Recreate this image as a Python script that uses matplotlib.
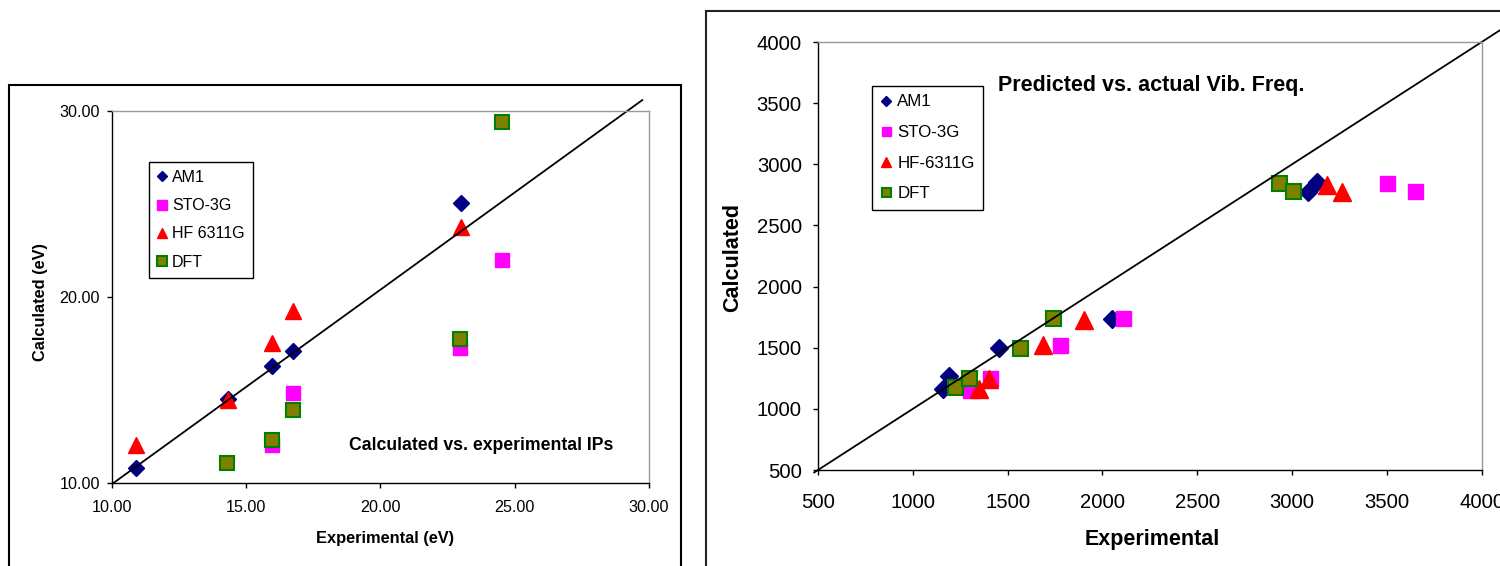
import numpy as np
import matplotlib.pyplot as plt
from matplotlib.patches import Rectangle
from matplotlib.ticker import FormatStrFormatter, MultipleLocator

plt.rcParams['font.family'] = ['Liberation Sans', 'DejaVu Sans']

# ---- ionisation potentials (eV) ----
ip_exp_am1 = [10.89, 14.32, 15.95, 16.74, 23.0]
ip_am1 = [10.82, 14.54, 16.29, 17.09, 25.05]
ip_exp_sto = [15.95, 16.74, 22.96, 24.53]
ip_sto = [12.04, 14.86, 17.24, 21.96]
ip_exp_hf = [10.89, 14.34, 15.97, 16.74, 23.0]
ip_hf = [12.04, 14.45, 17.52, 19.24, 23.78]
ip_exp_dft = [14.30, 15.95, 16.74, 22.96, 24.53]
ip_dft = [11.09, 12.30, 13.91, 17.72, 29.37]
ip_fit_x = [10.05, 29.75]
ip_fit_y = [10.0, 30.57]

# ---- vibrational frequencies ----
vib_exp_am1 = [1161, 1192, 1454, 2049, 3086, 3130]
vib_am1 = [1166, 1267, 1501, 1732, 2770, 2852]
vib_exp_sto = [1302, 1407, 1776, 2110, 3499, 3648]
vib_sto = [1153, 1256, 1520, 1745, 2843, 2784]
vib_exp_hf = [1351, 1402, 1685, 1903, 3183, 3262]
vib_hf = [1166, 1248, 1520, 1729, 2830, 2776]
vib_exp_dft = [1222, 1296, 1565, 1741, 2933, 3006]
vib_dft = [1175, 1256, 1501, 1745, 2847, 2784]
vib_ideal = [480, 4100]

W, H = 1500, 566
fig = plt.figure(figsize=(15, 5.66), dpi=100)


def fx(px):
    return px / W


def fy(py):
    return 1 - py / H


# outer chart borders
fig.patches.append(Rectangle((fx(9), -0.05), fx(681) - fx(9), fy(85) + 0.05,
                             transform=fig.transFigure, fill=False,
                             edgecolor='black', lw=1.5))
fig.patches.append(Rectangle((fx(706), -0.05), 1.0, fy(11) + 0.05,
                             transform=fig.transFigure, fill=False,
                             edgecolor='#222222', lw=1.5))


def style_axes(ax, tick_size, xpad, ypad):
    for s in ['left', 'bottom']:
        ax.spines[s].set_color('black')
        ax.spines[s].set_linewidth(1.0)
    for s in ['top', 'right']:
        ax.spines[s].set_color('#999999')
        ax.spines[s].set_linewidth(1.0)
    ax.tick_params(direction='out', length=3.6, width=1, labelsize=tick_size)
    ax.tick_params(axis='x', pad=xpad)
    ax.tick_params(axis='y', pad=ypad)


colors = {'AM1': '#000080', 'STO': '#FF00FF', 'HF': '#FF0000',
          'DFT': '#808000'}

# ---------------- left chart ----------------
ax1 = fig.add_axes([fx(111.7), fy(483.3), fx(649) - fx(111.7), fy(110.7) - fy(483.3)])
ax1.plot(ip_exp_am1, ip_am1, 'D', ms=8.5, color=colors['AM1'], mec=colors['AM1'],
         label='AM1', clip_on=False)
ax1.plot(ip_exp_sto, ip_sto, 's', ms=10, color=colors['STO'], mec=colors['STO'],
         label='STO-3G', clip_on=False)
ax1.plot(ip_exp_hf, ip_hf, '^', ms=11.5, color=colors['HF'], mec=colors['HF'],
         label='HF 6311G', clip_on=False)
ax1.plot(ip_exp_dft, ip_dft, 's', ms=10, color=colors['DFT'], mec='#008000',
         mew=1.5, label='DFT', clip_on=False)
ax1.plot(ip_fit_x, ip_fit_y, color='black', lw=1.3, clip_on=False)
ax1.set_xlim(10, 30)
ax1.set_ylim(10, 30)
ax1.xaxis.set_major_locator(MultipleLocator(5))
ax1.yaxis.set_major_locator(MultipleLocator(10))
ax1.xaxis.set_major_formatter(FormatStrFormatter('%.2f'))
ax1.yaxis.set_major_formatter(FormatStrFormatter('%.2f'))
style_axes(ax1, 11.6, 8.5, 5)
leg1 = ax1.legend(loc='upper left', bbox_to_anchor=(fx(149), fy(162)),
                  bbox_transform=fig.transFigure, borderaxespad=0,
                  fancybox=False, edgecolor='black', framealpha=1,
                  fontsize=11.5, markerscale=0.65, handlelength=0.6,
                  handletextpad=0.35, labelspacing=0.83, borderpad=0.5,
                  numpoints=1)
leg1.get_frame().set_linewidth(1.0)
fig.text(fx(349), fy(445), 'Calculated vs. experimental IPs', fontsize=12.7,
         fontweight='bold', ha='left', va='center')
fig.text(fx(385), fy(538), 'Experimental (eV)', fontsize=11.8,
         fontweight='bold', ha='center', va='center')
fig.text(fx(40), fy(302), 'Calculated (eV)', fontsize=11.8,
         fontweight='bold', ha='center', va='center', rotation=90)

# ---------------- right chart ----------------
ax2 = fig.add_axes([fx(818), fy(470), fx(1481.7) - fx(818), fy(42) - fy(470)])
ax2.plot(vib_exp_am1, vib_am1, 'D', ms=9.2, color=colors['AM1'], mec=colors['AM1'],
         label='AM1', clip_on=False)
ax2.plot(vib_exp_sto, vib_sto, 's', ms=10.8, color=colors['STO'], mec=colors['STO'],
         label='STO-3G', clip_on=False)
ax2.plot(vib_exp_hf, vib_hf, '^', ms=13, color=colors['HF'], mec=colors['HF'],
         label='HF-6311G', clip_on=False)
ax2.plot(vib_exp_dft, vib_dft, 's', ms=10.8, color=colors['DFT'], mec='#008000',
         mew=1.5, label='DFT', clip_on=False)
ax2.plot(vib_ideal, vib_ideal, color='black', lw=1.3, clip_on=False)
ax2.set_xlim(500, 4000)
ax2.set_ylim(500, 4000)
ax2.xaxis.set_major_locator(MultipleLocator(500))
ax2.yaxis.set_major_locator(MultipleLocator(500))
style_axes(ax2, 14.6, 13, 8)
leg2 = ax2.legend(loc='upper left', bbox_to_anchor=(fx(872), fy(86)),
                  bbox_transform=fig.transFigure, borderaxespad=0,
                  fancybox=False, edgecolor='black', framealpha=1,
                  fontsize=12.2, markerscale=0.6, handlelength=0.6,
                  handletextpad=0.4, labelspacing=0.92, borderpad=0.5,
                  numpoints=1)
leg2.get_frame().set_linewidth(1.0)
fig.text(fx(998), fy(86), 'Predicted vs. actual Vib. Freq.', fontsize=15.5,
         fontweight='bold', ha='left', va='center')
fig.text(fx(1152), fy(540), 'Experimental', fontsize=15.5,
         fontweight='bold', ha='center', va='center')
fig.text(fx(733), fy(258), 'Calculated', fontsize=15.5,
         fontweight='bold', ha='center', va='center', rotation=90)

fig.savefig('out.png', dpi=100)
